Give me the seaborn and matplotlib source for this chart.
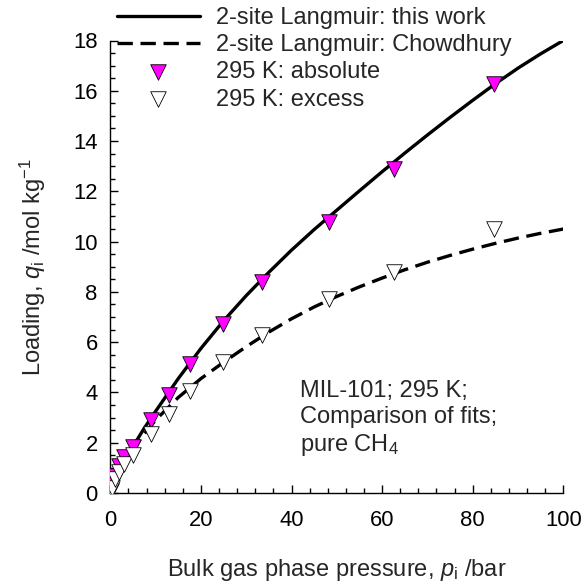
import matplotlib
matplotlib.use("Agg")
import matplotlib.pyplot as plt
import seaborn as sns
from matplotlib.ticker import MultipleLocator

# Measured isotherm points, MIL-101, pure CH4 at 295 K
pressure_bar = [0.1, 0.3, 1.0, 1.9, 3.1, 5.1, 9.0, 12.9, 17.5, 24.9, 33.4, 48.3, 62.6, 84.8]
q_absolute = [0.1, 0.3, 0.68, 1.06, 1.43, 1.82, 2.92, 3.9, 5.13, 6.72, 8.38, 10.8, 12.9, 16.28]
q_excess = [0.06, 0.2, 0.55, 0.85, 1.15, 1.5, 2.35, 3.15, 4.06, 5.2, 6.3, 7.72, 8.78, 10.5]

# Fitted 2-site Langmuir isotherms
fit_pressure = [0, 1, 2.5, 5, 7.5, 10, 15, 20, 25, 30, 35, 40, 45, 50, 55, 60,
                65, 70, 75, 80, 85, 90, 95, 100]
fit_this_work = [0, 0.42, 1.0, 1.85, 2.58, 3.25, 4.55, 5.75, 6.85, 7.85, 8.78, 9.66,
                 10.48, 11.25, 12.02, 12.78, 13.52, 14.24, 14.94, 15.62, 16.28, 16.9,
                 17.47, 18.0]
fit_chowdhury = [0, 0.38, 0.92, 1.7, 2.35, 2.9, 3.8, 4.55, 5.2, 5.82, 6.4, 6.93,
                 7.4, 7.82, 8.2, 8.55, 8.88, 9.18, 9.45, 9.7, 9.93, 10.14, 10.33, 10.5]

x_ticks = [0, 20, 40, 60, 80, 100]
y_ticks = [0, 2, 4, 6, 8, 10, 12, 14, 16, 18]

sns.set_style("white")
plt.rcParams["font.family"] = ["Liberation Sans", "DejaVu Sans"]
plt.rcParams["mathtext.fontset"] = "custom"
plt.rcParams["mathtext.rm"] = "Liberation Sans"
plt.rcParams["mathtext.it"] = "Liberation Sans:italic"
plt.rcParams["mathtext.bf"] = "Liberation Sans:bold"

FS = 17
TICK_FS = 15.8

fig = plt.figure(figsize=(5.85, 5.86), dpi=100)
ax = fig.add_axes([110.3 / 585, 1 - 493 / 586, (563.3 - 110.3) / 585, (493 - 40.5) / 586])

sns.lineplot(x=fit_pressure, y=fit_this_work, ax=ax, color="black", lw=2.4,
             label="2-site Langmuir: this work")
sns.lineplot(x=fit_pressure, y=fit_chowdhury, ax=ax, color="black", lw=2.4,
             linestyle=(0, (4.6, 2.3)), label="2-site Langmuir: Chowdhury")
sns.scatterplot(x=pressure_bar, y=q_absolute, ax=ax, marker="v", s=125,
                color="#ff00ff", edgecolor="black", linewidth=0.6, zorder=3,
                label="295 K: absolute")
sns.scatterplot(x=pressure_bar, y=q_excess, ax=ax, marker="v", s=125,
                color="white", edgecolor="black", linewidth=0.6, zorder=4,
                label="295 K: excess")

ax.set_xlim(0, 100)
ax.set_ylim(0, 18)
ax.set_xticks(x_ticks)
ax.set_yticks(y_ticks)
ax.xaxis.set_minor_locator(MultipleLocator(4))
ax.yaxis.set_minor_locator(MultipleLocator(0.5))
ax.tick_params(which="both", direction="in", colors="black", labelsize=TICK_FS,
               top=False, right=False, bottom=True, left=True)
ax.tick_params(axis="x", which="major", length=6, width=1, pad=12)
ax.tick_params(axis="x", which="minor", length=3.5, width=1)
ax.tick_params(axis="y", which="major", length=6, width=1, pad=9)
ax.tick_params(axis="y", which="minor", length=3.5, width=1)

for side in ("top", "right"):
    ax.spines[side].set_visible(False)
for side in ("left", "bottom"):
    ax.spines[side].set_color("black")
    ax.spines[side].set_linewidth(1.0)

ax.set_xlabel(r"Bulk gas phase pressure, $\mathit{p}_{\mathrm{i}}$ /bar", fontsize=FS, labelpad=19)
ax.set_ylabel(r"Loading, $\mathit{q}_{\mathrm{i}}$ /mol kg$^{-1}$", fontsize=FS, labelpad=18)

ax.text(300 / 585, 1 - 419 / 586, "MIL-101; 295 K;\nComparison of fits;\npure CH$_4$",
        transform=fig.transFigure, fontsize=FS, va="center", ha="left",
        linespacing=1.2)

leg = ax.legend(loc="upper left", bbox_to_anchor=(117 / 585, 1 - 7 / 586),
                bbox_transform=fig.transFigure, frameon=False, fontsize=FS,
                borderpad=0, borderaxespad=0, handlelength=3.5, handletextpad=0.68,
                labelspacing=0.22)

fig.savefig("out.png", dpi=100)
